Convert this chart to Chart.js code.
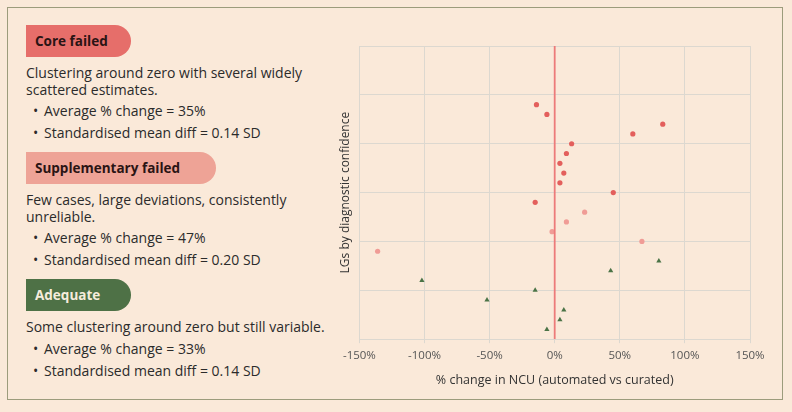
<!DOCTYPE html>
<html>
<head>
<meta charset="utf-8">
<script src="https://cdn.jsdelivr.net/npm/chart.js@4"></script>
<style>
  html, body { margin: 0; padding: 0; background: #fae9d9; }
  body { width: 792px; height: 412px; position: relative; overflow: hidden; font-family: "Open Sans", sans-serif; color: #2b2b2b; }
  .frame { position: absolute; left: 7px; top: 7px; width: 776px; height: 393px; border: 1px solid #9c9c7c; box-sizing: border-box; }
  .panel { position: absolute; left: 26px; top: 25px; width: 300px; font-size: 14px; }
  .badge { height: 32px; line-height: 32px; padding-left: 9px; font-weight: 700; font-size: 13.5px; border-radius: 0 16px 16px 0; box-sizing: border-box; }
  .core { width: 105px; background: #e66e6a; color: #2a1414; }
  .supp { width: 190px; background: #eea396; color: #2a1414; }
  .adeq { width: 105px; background: #4e7146; color: #f6ecdc; }
  p { margin: 8px 0 0 0; line-height: 16.5px; }
  ul { margin: 2px 0 0 0; padding: 0; list-style: none; }
  li { position: relative; padding-left: 18px; line-height: 22px; white-space: nowrap; }
  li::before { content: "•"; position: absolute; left: 7px; }
  .gap { height: 8px; }
  #wrap { position: absolute; left: 334px; top: 30px; width: 446px; height: 370px; }
</style>
</head>
<body>
<div class="frame"></div>
<div class="panel">
  <div class="badge core">Core failed</div>
  <p>Clustering around zero with several widely scattered estimates.</p>
  <ul><li>Average % change = 35%</li><li>Standardised mean diff = 0.14 SD</li></ul>
  <div class="gap"></div>
  <div class="badge supp">Supplementary failed</div>
  <p>Few cases, large deviations, consistently unreliable.</p>
  <ul><li>Average % change = 47%</li><li>Standardised mean diff = 0.20 SD</li></ul>
  <div class="gap"></div>
  <div class="badge adeq">Adequate</div>
  <p>Some clustering around zero but still variable.</p>
  <ul><li>Average % change = 33%</li><li>Standardised mean diff = 0.14 SD</li></ul>
</div>
<div id="wrap"><canvas id="scatter"></canvas></div>
<script>
// % change per LG, rows ordered by diagnostic confidence (top = highest row)
const coreChange = [-14, -6, 83, 60, 13, 9, 4, 7, 4, 45, -15];
const coreRow    = [24, 23, 22, 21, 20, 19, 18, 17, 16, 15, 14];
const suppChange = [23, 9, -2, 67, -136];
const suppRow    = [13, 12, 11, 10, 9];
const adeqChange = [80, 43, -102, -15, -52, 7, 4, -6];
const adeqRow    = [8, 7, 6, 5, 4, 3, 2, 1];
const xTicks = [-150, -100, -50, 0, 50, 100, 150];
const rowMax = 30;

const pts = (xs, ys) => xs.map((x, i) => ({ x: x, y: ys[i] }));

new Chart(document.getElementById('scatter'), {
    type: 'scatter',
    data: {
        datasets: [{
            label: 'zero',
            type: 'line',
            data: [{ x: 0, y: 0 }, { x: 0, y: rowMax }],
            borderColor: '#ec7b7a',
            borderWidth: 1.8,
            pointRadius: 0,
        }, {
            label: 'Core failed',
            data: pts(coreChange, coreRow),
            backgroundColor: '#e35f5c',
            borderWidth: 0,
            pointRadius: 2.6,
        }, {
            label: 'Supplementary failed',
            data: pts(suppChange, suppRow),
            backgroundColor: '#f09c96',
            borderWidth: 0,
            pointRadius: 2.6,
        }, {
            label: 'Adequate',
            data: pts(adeqChange, adeqRow),
            backgroundColor: '#4a7346',
            borderWidth: 0,
            pointStyle: 'triangle',
            pointRadius: 3,
        }]
    },
    options: {
        responsive: true,
        maintainAspectRatio: false,
        animation: false,
        events: [],
        layout: { padding: { top: 16, right: 30, left: 0, bottom: 8 } },
        plugins: { legend: { display: false }, tooltip: { enabled: false } },
        scales: {
            x: {
                min: -150, max: 150,
                afterBuildTicks: (axis) => { axis.ticks = xTicks.map(v => ({ value: v })); },
                grid: { color: '#dcd8d0', tickLength: 4 },
                border: { color: '#dcd8d0' },
                ticks: { color: '#555', font: { family: 'Open Sans', size: 11.5 }, padding: 6, callback: v => v + '%' },
                title: { display: true, text: '% change in NCU (automated vs curated)', color: '#333', font: { family: 'Open Sans', size: 12.5 }, padding: { top: 4 } },
            },
            y: {
                min: 0, max: rowMax,
                ticks: { display: false, stepSize: 5 },
                grid: { color: '#dcd8d0', drawTicks: false },
                border: { color: '#dcd8d0' },
                title: { display: true, text: 'LGs by diagnostic confidence', color: '#333', font: { family: 'Open Sans', size: 12 }, padding: { top: 4, bottom: 7 } },
            }
        }
    }
});
</script>
</body>
</html>
